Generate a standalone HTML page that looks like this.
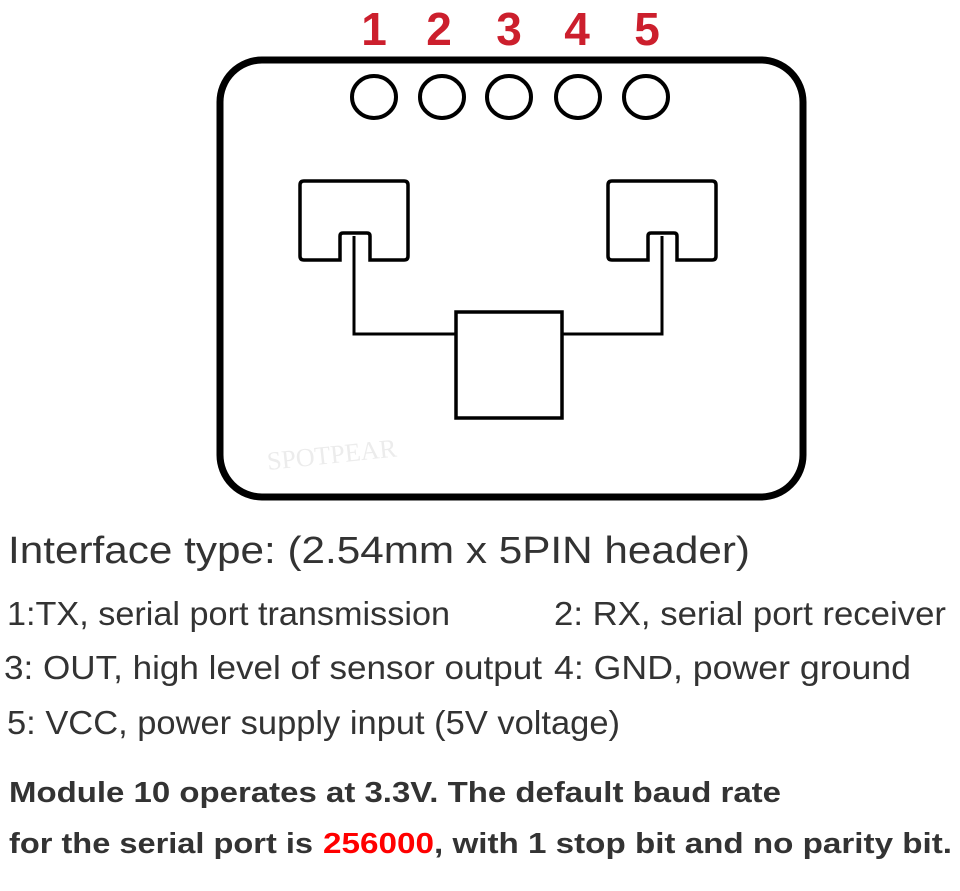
<!DOCTYPE html>
<html><head><meta charset="utf-8"><style>
html,body{margin:0;padding:0;background:#fff;}
svg{display:block;}
</style></head><body>
<svg width="960" height="891" viewBox="0 0 960 891" xmlns="http://www.w3.org/2000/svg">
<rect width="960" height="891" fill="#fff"/>
<g font-family="Liberation Sans, sans-serif" font-weight="bold" font-size="46" fill="#cc1f2d" text-anchor="middle">
<text x="374" y="45">1</text><text x="439" y="45">2</text><text x="509" y="45">3</text><text x="577" y="45">4</text><text x="647" y="45">5</text>
</g>
<rect x="220" y="60" width="583" height="437" rx="42" fill="none" stroke="#000" stroke-width="7"/>
<g fill="none" stroke="#000" stroke-width="4">
<ellipse cx="374" cy="97" rx="22" ry="21"/>
<ellipse cx="442" cy="97" rx="22" ry="21"/>
<ellipse cx="509" cy="97" rx="22" ry="21"/>
<ellipse cx="578" cy="97" rx="22" ry="21"/>
<ellipse cx="646" cy="97" rx="22" ry="21"/>
<path d="M304 181 H404 Q408 181 408 185 V256 Q408 260 404 260 H370 V236 Q370 233 367 233 H343 Q340 233 340 236 V260 H304 Q300 260 300 256 V185 Q300 181 304 181 Z" stroke-width="3.5"/>
<path d="M612 181 H712 Q716 181 716 185 V256 Q716 260 712 260 H677 V236 Q677 233 674 233 H651 Q648 233 648 236 V260 H612 Q608 260 608 256 V185 Q608 181 612 181 Z" stroke-width="3.5"/>
<path d="M354 236 V334 H456" stroke-width="3"/>
<path d="M662 236 V334 H562" stroke-width="3"/>
<rect x="456" y="312" width="106" height="106" stroke-width="3.5"/>
</g>
<text x="268" y="470" font-family="Liberation Serif, serif" font-size="26" fill="#ececec" transform="rotate(-6 268 470)">SPOTPEAR</text>
<g font-family="Liberation Sans, sans-serif" fill="#333">
<text x="8" y="563" font-size="38" textLength="742" lengthAdjust="spacingAndGlyphs">Interface type: (2.54mm x 5PIN header)</text>
<g font-size="33">
<text x="7" y="625" textLength="443" lengthAdjust="spacingAndGlyphs">1:TX, serial port transmission</text>
<text x="554" y="625" textLength="392" lengthAdjust="spacingAndGlyphs">2: RX, serial port receiver</text>
<text x="4" y="679" textLength="538" lengthAdjust="spacingAndGlyphs">3: OUT, high level of sensor output</text>
<text x="554" y="679" textLength="357" lengthAdjust="spacingAndGlyphs">4: GND, power ground</text>
<text x="7" y="734" textLength="613" lengthAdjust="spacingAndGlyphs">5: VCC, power supply input (5V voltage)</text>
</g>
<g font-size="29" font-weight="bold">
<text x="9" y="802" textLength="772" lengthAdjust="spacingAndGlyphs">Module 10 operates at 3.3V. The default baud rate</text>
<text x="9" y="853" textLength="304" lengthAdjust="spacingAndGlyphs">for the serial port is</text>
<text x="323" y="853" fill="#ff0000" textLength="111" lengthAdjust="spacingAndGlyphs">256000</text>
<text x="434" y="853" textLength="518" lengthAdjust="spacingAndGlyphs">, with 1 stop bit and no parity bit.</text>
</g>
</g>
</svg>
</body></html>
